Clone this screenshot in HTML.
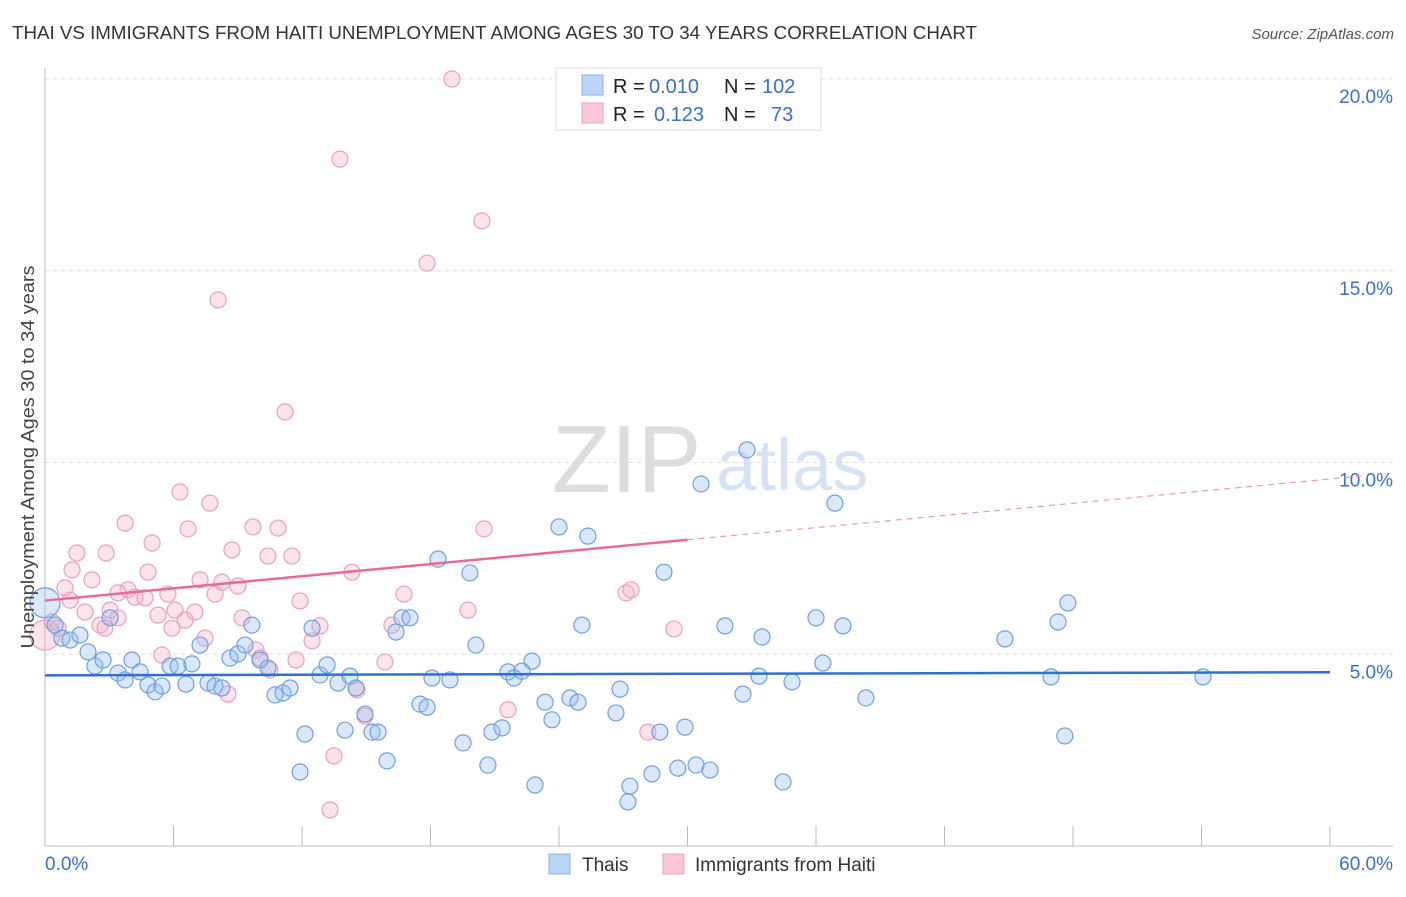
<!DOCTYPE html>
<html><head><meta charset="utf-8"><style>
body{margin:0;background:#fff;font-family:"Liberation Sans",sans-serif;}
svg text{font-family:"Liberation Sans",sans-serif;}
</style></head><body>
<svg id="chart" width="1406" height="892" xmlns="http://www.w3.org/2000/svg">
<text x="12" y="39" font-size="18" fill="#333" textLength="965" lengthAdjust="spacingAndGlyphs">THAI VS IMMIGRANTS FROM HAITI UNEMPLOYMENT AMONG AGES 30 TO 34 YEARS CORRELATION CHART</text>
<text x="1394" y="39" font-size="15" fill="#555" text-anchor="end" font-style="italic">Source: ZipAtlas.com</text>
<g>
<text x="552" y="492" font-size="96" fill="#ddd" font-family="Liberation Serif,serif">ZIP</text>
<text x="716" y="490" font-size="72" fill="#d6e3f5">atlas</text>
</g>
<g id="grid"></g>
<g id="axes"></g>
<g id="marks"></g>
<g>
<rect x="556" y="68" width="265" height="62" fill="#fff" stroke="#ddd"/>
<rect x="582" y="75" width="21" height="20" fill="#bcd4f6" stroke="#8ab0e8"/>
<rect x="582" y="103" width="21" height="20" fill="#fbc8d8" stroke="#eea5bf"/>
<text x="613" y="93" font-size="20" fill="#222">R =</text>
<text x="649" y="93" font-size="20" fill="#3a6fd1">0.010</text>
<text x="724" y="93" font-size="20" fill="#222">N =</text>
<text x="762" y="93" font-size="20" fill="#3a6fd1">102</text>
<text x="613" y="121" font-size="20" fill="#222">R =</text>
<text x="654" y="121" font-size="20" fill="#3a6fd1">0.123</text>
<text x="724" y="121" font-size="20" fill="#222">N =</text>
<text x="771" y="121" font-size="20" fill="#3a6fd1">73</text>
</g>
<g>
<rect x="549" y="854" width="21" height="20" fill="#bcd4f6" stroke="#8ab0e8"/>
<text x="582" y="871" font-size="19" fill="#333">Thais</text>
<rect x="663" y="854" width="21" height="20" fill="#fbc8d8" stroke="#eea5bf"/>
<text x="695" y="871" font-size="19" fill="#333">Immigrants from Haiti</text>
</g>
<text transform="translate(34,457) rotate(-90)" font-size="18" fill="#444" text-anchor="middle" textLength="383" lengthAdjust="spacingAndGlyphs">Unemployment Among Ages 30 to 34 years</text>
</svg>
<script>
const yTicks=[5,10,15,20];
const yTickLabels=["5.0%","10.0%","15.0%","20.0%"];
const blueX=[0.0,0.47,0.79,1.17,1.63,2.01,2.33,2.71,3.04,3.41,3.74,4.06,4.44,4.81,5.14,5.46,5.84,6.21,6.58,6.86,7.24,7.61,7.94,8.26,8.64,9.01,9.34,9.66,10.04,10.41,10.74,11.11,11.44,12.14,11.91,12.47,12.84,13.17,13.68,14.01,14.24,14.52,14.94,15.27,15.55,15.97,16.39,16.67,17.04,17.51,17.84,18.07,18.35,18.91,19.52,19.84,20.12,20.68,20.87,21.34,21.62,21.90,22.27,22.74,22.88,23.35,23.67,24.00,24.51,24.89,25.07,25.35,26.66,26.85,27.31,27.22,28.34,28.71,28.90,29.55,29.88,30.40,30.63,31.05,31.75,32.59,32.78,33.34,33.48,34.46,34.88,36.00,36.32,36.88,37.26,38.33,44.82,46.97,47.30,47.62,47.76,54.07];
const blueY=[6.34,5.76,5.42,5.37,5.50,5.06,4.69,4.85,5.95,4.51,4.33,4.85,4.54,4.20,4.02,4.17,4.69,4.69,4.22,4.75,5.24,4.25,4.17,4.12,4.90,5.01,5.24,5.76,4.85,4.64,3.94,3.99,4.12,2.92,1.93,5.68,4.46,4.72,4.25,3.02,4.43,4.12,3.44,2.97,2.97,2.22,5.58,5.95,5.95,3.70,3.62,4.38,7.48,4.33,2.69,7.12,5.24,2.11,2.97,3.08,4.54,4.38,4.56,4.82,1.59,3.75,3.29,8.32,3.86,3.75,5.76,8.08,3.47,4.09,1.56,1.15,1.88,2.97,7.14,2.03,3.10,2.11,9.44,1.98,5.74,3.96,10.33,4.43,5.45,1.67,4.28,5.95,4.77,8.94,5.74,3.86,5.40,4.41,5.84,2.87,6.34,4.41];
const pinkX=[0.0,0.33,0.61,0.93,1.26,1.49,1.87,2.19,2.57,2.85,3.04,3.41,3.74,3.88,4.20,4.67,4.81,5.00,5.28,5.46,5.74,5.93,6.07,6.30,6.54,6.68,7.00,7.24,7.47,7.70,7.94,8.08,8.26,8.54,8.73,9.01,9.20,9.71,9.85,10.04,10.41,10.51,10.88,11.21,11.53,11.72,11.91,12.47,12.84,13.49,13.31,13.77,14.33,14.57,14.94,15.87,16.20,16.76,17.84,19.00,19.75,20.40,20.50,21.62,27.13,27.36,28.15,29.37,2.80,3.41,1.17];
const pinkY=[5.50,5.84,5.68,6.73,7.20,7.64,6.10,6.94,5.76,7.64,6.15,5.95,8.42,6.68,6.49,6.47,7.14,7.90,6.02,4.98,6.57,5.68,6.15,9.23,5.89,8.27,6.10,6.94,5.42,8.94,6.57,14.24,6.88,3.96,7.72,6.78,5.95,8.32,5.11,4.90,7.56,4.59,8.29,11.32,7.56,4.85,6.39,5.35,5.74,2.35,0.94,17.91,7.14,4.07,3.39,4.80,5.76,6.57,15.20,20.00,6.15,16.30,8.27,3.55,6.60,6.68,2.97,5.66,5.68,6.60,6.41];
const blueTrend=[4.45,4.53];
const pinkTrend=[6.4,9.65];
const NS="http://www.w3.org/2000/svg";
const X0=45,X1=1330,Y0=846,PXY=(846-79)/20;
function sx(v){return X0+v/60*(X1-X0);}
function sy(v){return Y0-v*PXY;}
function mk(tag,attrs,parent){const e=document.createElementNS(NS,tag);for(const k in attrs)e.setAttribute(k,attrs[k]);parent.appendChild(e);return e;}
const grid=document.getElementById('grid'),axes=document.getElementById('axes'),marks=document.getElementById('marks');
yTicks.forEach((t,i)=>{
 const l=mk('line',{x1:45,x2:1393,y1:sy(t),y2:sy(t),stroke:'#ddd','stroke-dasharray':'4,4'},grid);
 
 
 const tx=mk('text',{x:1393,y:sy(t)+24,'font-size':19,fill:'#3a6fd1','text-anchor':'end'},axes);
 tx.textContent=yTickLabels[i];
 
 
});
mk('line',{x1:45,x2:45,y1:68,y2:846,stroke:'#bbb'},axes);
mk('line',{x1:45,x2:1393,y1:846,y2:846,stroke:'#bbb'},axes);
for(let i=0;i<=10;i++){const t=mk('line',{x1:sx(i*6),x2:sx(i*6),y1:826,y2:846,stroke:'#bbb'},axes);
 
 }
const xl=mk('text',{x:45,y:870,'font-size':19,fill:'#3a6fd1'},axes);xl.textContent='0.0%';


const xr=mk('text',{x:1393,y:870,'font-size':19,fill:'#3a6fd1','text-anchor':'end'},axes);xr.textContent='60.0%';


function dots(xs,ys,fill,stroke,name){xs.forEach((v,i)=>{const c=mk('circle',{cx:sx(v),cy:sy(ys[i]),r:i==0?15:8,fill:fill,stroke:stroke,'stroke-width':1.2},marks);
 
 });}
dots(pinkX,pinkY,'rgba(246,176,200,0.35)','#eaa0ba','haiti-point');
dots(blueX,blueY,'rgba(150,188,240,0.35)','#6f9fe4','thais-point');
const pxm=30,pe=61.5;
const pyAt=x=>pinkTrend[0]+(pinkTrend[1]-pinkTrend[0])*x/pe;
const p1=mk('line',{x1:sx(0),y1:sy(pinkTrend[0]),x2:sx(pxm),y2:sy(pyAt(pxm)),stroke:'#e96a98','stroke-width':2.5},marks);


const p2=mk('line',{x1:sx(pxm),y1:sy(pyAt(pxm)),x2:sx(pe),y2:sy(pinkTrend[1]),stroke:'#e99ab6','stroke-width':1.2,'stroke-dasharray':'6,5'},marks);


const b=mk('line',{x1:sx(0),y1:sy(blueTrend[0]),x2:sx(60),y2:sy(blueTrend[1]),stroke:'#2f6fd6','stroke-width':2.5},marks);


</script>
</body></html>
